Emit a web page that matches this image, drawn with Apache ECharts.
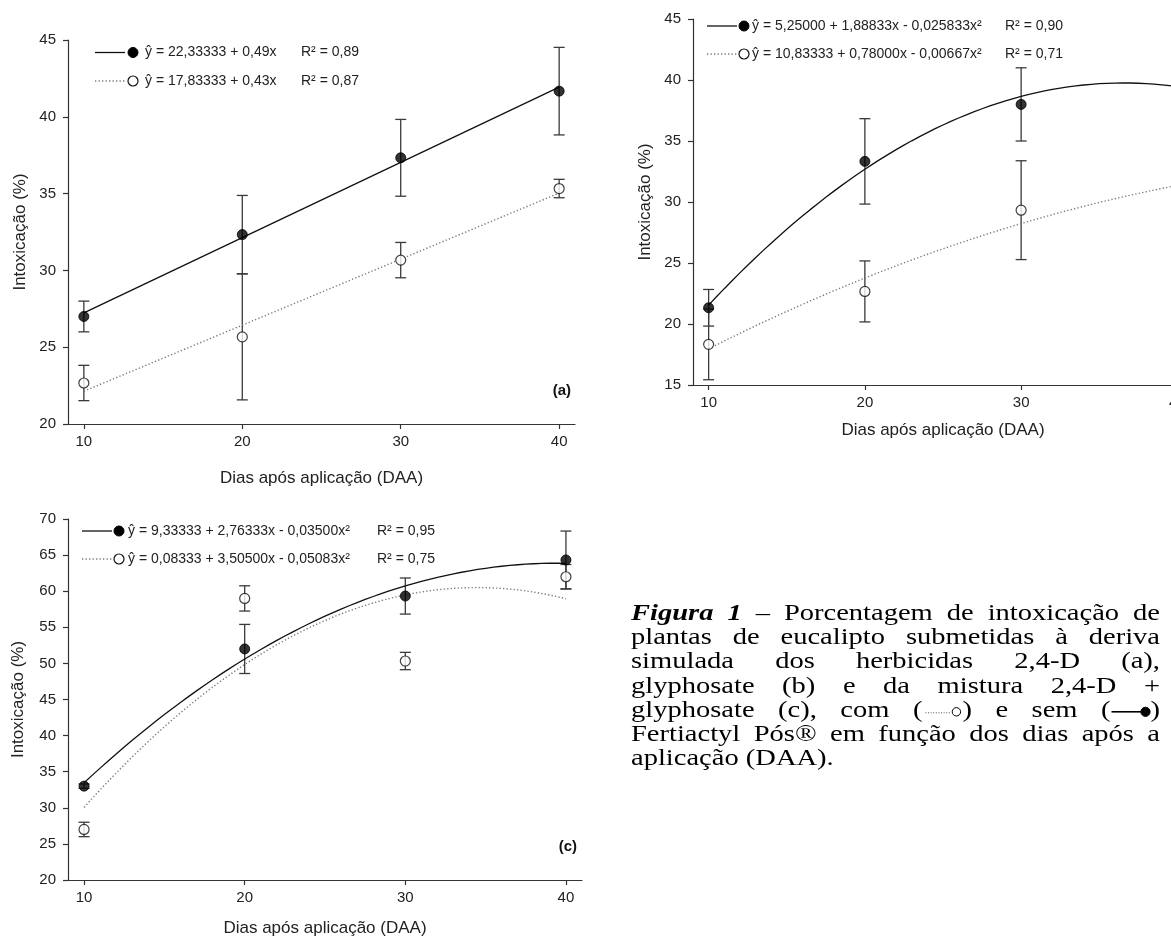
<!DOCTYPE html>
<html>
<head>
<meta charset="utf-8">
<script src="https://cdn.jsdelivr.net/npm/echarts@6/dist/echarts.min.js"></script>
<style>
  html, body { margin: 0; padding: 0; background: #fff; overflow: hidden; }
  /* the glyphosate panel runs past the right page edge, so the canvas is wider than the page */
  #chart { width: 1240px; height: 939px; }
</style>
</head>
<body>
<div id="chart"></div>
<script>
// Days after application (DAA) and the axis tick values
const days = [10, 20, 30, 40];
const xTickValues = [10, 20, 30, 40];

// (a) 2,4-D — sem (filled) and com (open) Fertiactyl Pós
const aSemMedia = [27.0, 32.33, 37.33, 41.67];
const aSemErro  = [1.0, 2.55, 2.5, 2.85];
const aComMedia = [22.67, 25.67, 30.67, 35.33];
const aComErro  = [1.15, 4.1, 1.15, 0.6];
const aSemCoef  = ['22,33333', '0,49'];
const aComCoef  = ['17,83333', '0,43'];
const aR2       = ['0,89', '0,87'];

// (b) glyphosate
const bSemMedia = [21.33, 33.33, 38.0, 35.5];
const bSemErro  = [1.5, 3.5, 3.0, 1.6];
const bComMedia = [18.33, 22.67, 29.33, 21.8];
const bComErro  = [2.9, 2.5, 4.05, 3.7];
const bSemCoef  = ['5,25000', '1,88833', '-0,025833'];
const bComCoef  = ['10,83333', '0,78000', '-0,00667'];
const bR2       = ['0,90', '0,71'];

// (c) 2,4-D + glyphosate
const cSemMedia = [33.0, 52.0, 59.33, 64.33];
const cSemErro  = [0.3, 3.4, 2.5, 4.0];
const cComMedia = [27.0, 59.0, 50.33, 62.0];
const cComErro  = [1.0, 1.75, 1.2, 1.7];
const cSemCoef  = ['9,33333', '2,76333', '-0,03500'];
const cComCoef  = ['0,08333', '3,50500', '-0,05083'];
const cR2       = ['0,95', '0,75'];

const xTitle = 'Dias após aplicação (DAA)';
const yTitle = 'Intoxicação (%)';

const SANS = '"Liberation Sans", Arial, Helvetica, sans-serif';
const SERIF = '"Liberation Serif", "Times New Roman", serif';
const AXIS = '#333';

const num = s => parseFloat(s.replace(',', '.'));

// regression equation text, e.g. "ŷ = 5,25000 + 1,88833x - 0,025833x²"
function equationText(coefs) {
  let s = 'ŷ = ' + coefs[0] + ' + ' + coefs[1] + 'x';
  if (coefs.length > 2) s += ' - ' + coefs[2].replace('-', '') + 'x²';
  return s;
}

// fitted curve evaluated over the observed DAA span
function fittedCurve(coefs) {
  const c = coefs.map(num);
  const x0 = days[0], x1 = days[days.length - 1];
  const pts = [];
  if (c.length === 2) return [[x0, c[0] + c[1] * x0], [x1, c[0] + c[1] * x1]];
  for (let x = x0; x <= x1 + 1e-9; x += 0.5) pts.push([x, c[0] + c[1] * x + c[2] * x * x]);
  return pts;
}

function errorBarItem(params, api) {
  const x = api.value(0), m = api.value(1), e = api.value(2);
  const hi = api.coord([x, m + e]);
  const lo = api.coord([x, m - e]);
  const half = 5.5;
  const style = { stroke: '#3a3a3a', lineWidth: 1.3 };
  return {
    type: 'group',
    children: [
      { type: 'line', shape: { x1: hi[0], y1: hi[1], x2: lo[0], y2: lo[1] }, style },
      { type: 'line', shape: { x1: hi[0] - half, y1: hi[1], x2: hi[0] + half, y2: hi[1] }, style },
      { type: 'line', shape: { x1: lo[0] - half, y1: lo[1], x2: lo[0] + half, y2: lo[1] }, style }
    ]
  };
}

const panels = [
  {
    grid: { left: 68, top: 40, width: 507, height: 384 }, yMin: 20, yMax: 45,
    sem: [aSemMedia, aSemErro, aSemCoef], com: [aComMedia, aComErro, aComCoef], r2: aR2,
    legend: { lineX1: 95, lineX2: 125, markX: 133, textX: 145, r2X: 301, rows: [52.5, 81] },
    tag: { text: '(a)', x: 571, y: 391 }, xGap: 46, yGap: 39
  },
  {
    grid: { left: 693, top: 19, width: 500, height: 366 }, yMin: 15, yMax: 45,
    sem: [bSemMedia, bSemErro, bSemCoef], com: [bComMedia, bComErro, bComCoef], r2: bR2,
    legend: { lineX1: 707, lineX2: 737, markX: 744, textX: 752, r2X: 1005, rows: [26, 54] },
    tag: { text: '(b)', x: 1190, y: 357 }, xGap: 37, yGap: 39
  },
  {
    grid: { left: 68, top: 519, width: 514, height: 361 }, yMin: 20, yMax: 70,
    sem: [cSemMedia, cSemErro, cSemCoef], com: [cComMedia, cComErro, cComCoef], r2: cR2,
    legend: { lineX1: 82, lineX2: 112, markX: 119, textX: 128, r2X: 377, rows: [531, 559] },
    tag: { text: '(c)', x: 577, y: 847 }, xGap: 40, yGap: 41
  }
];

const grids = [], xAxes = [], yAxes = [], series = [], graphics = [];

panels.forEach((p, i) => {
  grids.push(Object.assign({ containLabel: false }, p.grid));
  xAxes.push({
    gridIndex: i, type: 'value', min: 9, max: 41,
    axisLine: { show: true, onZero: false, lineStyle: { color: AXIS, width: 1.2 } },
    axisTick: { show: true, length: 5, customValues: xTickValues, lineStyle: { color: AXIS, width: 1.2 } },
    axisLabel: { customValues: xTickValues, margin: 10, fontSize: 15, color: '#222', fontFamily: SANS },
    splitLine: { show: false },
    name: xTitle, nameLocation: 'middle', nameGap: p.xGap,
    nameTextStyle: { fontSize: 17, color: '#222', fontFamily: SANS }
  });
  yAxes.push({
    gridIndex: i, type: 'value', min: p.yMin, max: p.yMax, interval: 5,
    axisLine: { show: true, onZero: false, lineStyle: { color: AXIS, width: 1.2 } },
    axisTick: { show: true, length: 5, lineStyle: { color: AXIS, width: 1.2 } },
    axisLabel: { margin: 12, fontSize: 15, color: '#222', fontFamily: SANS },
    splitLine: { show: false },
    name: yTitle, nameLocation: 'middle', nameGap: p.yGap, nameRotate: 90,
    nameTextStyle: { fontSize: 17, color: '#222', fontFamily: SANS }
  });

  const groups = [
    { d: p.sem, filled: true },
    { d: p.com, filled: false }
  ];
  groups.forEach(g => {
    const [media, erro, coef] = g.d;
    series.push({
      type: 'custom', xAxisIndex: i, yAxisIndex: i, z: 2, silent: true,
      renderItem: errorBarItem,
      encode: { x: 0, y: 1 },
      data: days.map((d, k) => [d, media[k], erro[k]])
    });
    series.push({
      type: 'line', xAxisIndex: i, yAxisIndex: i, z: 3, silent: true,
      showSymbol: false, smooth: false, clip: true,
      lineStyle: g.filled
        ? { color: '#111', width: 1.3, type: 'solid' }
        : { color: '#7a7a7a', width: 1.4, type: [1.3, 2.2] },
      data: fittedCurve(coef)
    });
    series.push({
      type: 'scatter', xAxisIndex: i, yAxisIndex: i, z: 4, silent: true,
      symbol: 'circle', symbolSize: 10,
      itemStyle: g.filled
        ? { color: '#000', borderColor: '#000', borderWidth: 1 }
        : { color: '#fff', borderColor: '#111', borderWidth: 1.2 },
      data: days.map((d, k) => [d, media[k]])
    });
  });

  // equation legend in the upper-left of each plot
  const L = p.legend;
  [[p.sem[2], true, p.r2[0], L.rows[0]], [p.com[2], false, p.r2[1], L.rows[1]]].forEach(([coef, filled, r2, y]) => {
    graphics.push({
      type: 'line', silent: true, z: 20,
      shape: { x1: L.lineX1, y1: y, x2: L.lineX2, y2: y },
      style: filled ? { stroke: '#111', lineWidth: 1.3 } : { stroke: '#7a7a7a', lineWidth: 1.4, lineDash: [1.3, 2.2] }
    });
    graphics.push({
      type: 'circle', silent: true, z: 20,
      shape: { cx: L.markX, cy: y, r: 5 },
      style: filled ? { fill: '#000', stroke: '#000' } : { fill: '#fff', stroke: '#111', lineWidth: 1.2 }
    });
    graphics.push({
      type: 'text', silent: true, z: 20, x: L.textX, y: y,
      style: { text: equationText(coef), font: '14px ' + SANS, fill: '#222', align: 'left', verticalAlign: 'middle' }
    });
    graphics.push({
      type: 'text', silent: true, z: 20, x: L.r2X, y: y,
      style: { text: 'R² = ' + r2, font: '14px ' + SANS, fill: '#222', align: 'left', verticalAlign: 'middle' }
    });
  });

  graphics.push({
    type: 'text', silent: true, z: 20, x: p.tag.x, y: p.tag.y,
    style: { text: p.tag.text, font: 'bold 15px ' + SANS, fill: '#111', align: 'right', verticalAlign: 'middle' }
  });
});

// Figure caption, justified between two margins
const captionLines = [
  '*Figura *1 – Porcentagem de intoxicação de',
  'plantas de eucalipto submetidas à deriva',
  'simulada dos herbicidas 2,4-D (a),',
  'glyphosate (b) e da mistura 2,4-D +',
  'glyphosate (c), com {open} e sem {filled}',
  'Fertiactyl Pós® em função dos dias após a',
  'aplicação (DAA).'
];
const CAP = { left: 631, right: 1160, top: 614, step: 24.2, size: 23, stretch: 1.24 };
const capFont = CAP.size + 'px ' + SERIF;
const capFontBI = 'italic bold ' + CAP.size + 'px ' + SERIF;
const mctx = document.createElement('canvas').getContext('2d');
const measure = (t, f) => { mctx.font = f; return mctx.measureText(t).width * CAP.stretch; };
const SYM_W = 40;

function capText(t, font, x, y) {
  graphics.push({ type: 'text', silent: true, x: x, y: y, scaleX: CAP.stretch,
    style: { text: t, font: font, fill: '#000', align: 'left', verticalAlign: 'middle' } });
}

captionLines.forEach((line, li) => {
  const y = CAP.top + li * CAP.step;
  const words = line.split(' ').map(w => {
    if (w.startsWith('*')) return { t: w.slice(1), font: capFontBI };
    if (w === '{open}' || w === '{filled}') {
      return { sym: w === '{open}' ? 'open' : 'filled', font: capFont,
               w: measure('(', capFont) + SYM_W + measure(')', capFont) };
    }
    return { t: w, font: capFont };
  });
  words.forEach(w => { if (w.w === undefined) w.w = measure(w.t, w.font); });
  const total = words.reduce((s, w) => s + w.w, 0);
  const last = li === captionLines.length - 1;
  const gap = last ? measure(' ', capFont) : (CAP.right - CAP.left - total) / (words.length - 1);
  let x = CAP.left;
  words.forEach(w => {
    if (w.sym) {
      const pw = measure('(', capFont);
      capText('(', capFont, x, y);
      const sx = x + pw + 1;
      if (w.sym === 'open') {
        graphics.push({ type: 'line', silent: true, shape: { x1: sx + 2, y1: y + 2, x2: sx + 28, y2: y + 2 },
          style: { stroke: '#555', lineWidth: 1, lineDash: [1, 1.6] } });
        graphics.push({ type: 'circle', silent: true, shape: { cx: sx + 33, cy: y + 1, r: 4.2 },
          style: { fill: '#fff', stroke: '#000', lineWidth: 1 } });
      } else {
        graphics.push({ type: 'line', silent: true, shape: { x1: sx, y1: y + 1, x2: sx + 30, y2: y + 1 },
          style: { stroke: '#000', lineWidth: 1.6 } });
        graphics.push({ type: 'circle', silent: true, shape: { cx: sx + 34, cy: y + 1, r: 4.6 },
          style: { fill: '#000', stroke: '#000' } });
      }
      capText(')', capFont, sx + SYM_W - 1, y);
    } else {
      capText(w.t, w.font, x, y);
    }
    x += w.w + gap;
  });
});

const chart = echarts.init(document.getElementById('chart'), null, { renderer: 'canvas', width: 1240, height: 939 });
chart.setOption({
  animation: false,
  backgroundColor: '#fff',
  grid: grids,
  xAxis: xAxes,
  yAxis: yAxes,
  series: series,
  graphic: { elements: graphics }
});
</script>
</body>
</html>
